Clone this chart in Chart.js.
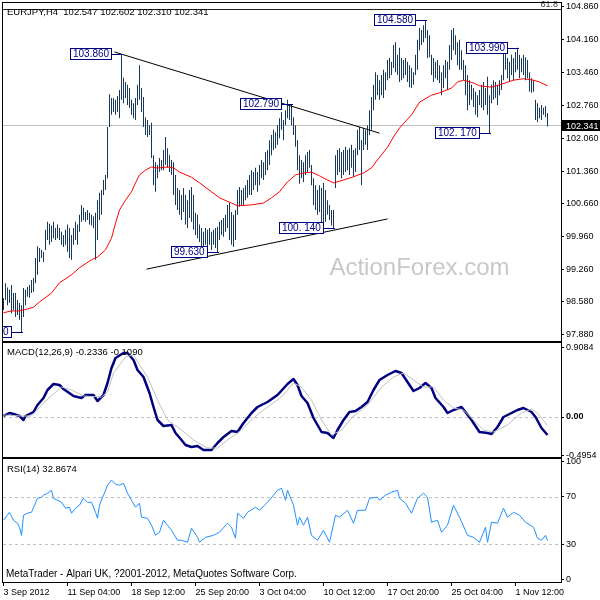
<!DOCTYPE html>
<html>
<head>
<meta charset="utf-8">
<script src="https://cdn.jsdelivr.net/npm/chart.js@4.4.1/dist/chart.umd.min.js"></script>
<style>
    html, body { margin: 0; padding: 0; background: #fff; }
    #wrap { position: relative; width: 600px; height: 600px; }
    #wrap canvas { position: absolute; left: 0; top: 0; }
</style>
</head>
<body>
<div id="wrap">
    <canvas id="mainChart" width="600" height="600"></canvas>
    <canvas id="macdChart" width="600" height="600"></canvas>
    <canvas id="rsiChart" width="600" height="600"></canvas>
</div>
<script>
/* ============================================================
   EURJPY H4 – bars + MA, MACD, RSI (MetaTrader look)
   ============================================================ */

// ── Price bars (one per H4 bar, index 0 = 3 Sep 2012) ──
var highs = [
    98.65, 98.97, 98.88, 98.83, 98.93, 98.76, 98.76, 98.61, 98.55, 98.50,
    98.87, 98.83, 98.89, 98.93, 99.04, 99.08, 99.51, 99.76, 99.72, 99.68,
    99.64, 100.11, 100.28, 100.24, 100.20, 100.28, 100.15, 100.22, 100.15, 100.07,
    100.00, 100.11, 100.22, 100.15, 100.00, 100.15, 100.28, 100.22, 100.43, 100.64,
    100.58, 100.49, 100.53, 100.47, 100.43, 100.39, 100.47, 100.74, 100.90, 100.96,
    101.17, 101.28, 102.30, 103.00, 102.92, 102.92, 102.88, 102.96, 103.09, 103.86,
    103.35, 103.26, 103.20, 103.13, 102.88, 102.81, 102.92, 103.20, 103.62, 103.13,
    102.94, 102.51, 102.45, 102.34, 102.39, 101.70, 101.55, 101.49, 101.64, 101.60,
    101.81, 102.09, 101.85, 101.70, 101.60, 101.55, 101.28, 101.00, 100.96, 100.85,
    101.00, 100.85, 100.74, 100.96, 101.02, 100.85, 100.47, 100.43, 100.22, 100.15,
    100.07, 100.15, 100.11, 100.15, 100.07, 100.11, 100.15, 100.17, 100.28, 100.32,
    100.36, 100.43, 100.64, 100.68, 100.49, 100.43, 100.53, 100.96, 101.02, 100.96,
    101.00, 101.06, 101.17, 101.28, 101.38, 101.34, 101.43, 101.34, 101.49, 101.60,
    101.55, 101.77, 101.81, 102.02, 102.13, 102.24, 102.19, 102.34, 102.49, 102.62,
    102.45, 102.66, 102.88, 102.75, 102.79, 102.51, 102.34, 102.02, 101.70, 101.60,
    101.55, 101.70, 101.77, 101.81, 101.49, 101.21, 101.06, 100.96, 101.06, 101.00,
    101.11, 100.96, 100.74, 100.64, 100.53, 100.53, 101.70, 101.81, 101.85, 101.77,
    101.81, 101.88, 101.81, 101.85, 101.92, 101.81, 101.85, 102.24, 102.30, 102.02,
    102.28, 102.24, 102.34, 102.66, 102.94, 103.20, 103.47, 103.41, 103.30, 103.41,
    103.52, 103.47, 103.73, 103.77, 103.69, 104.05, 104.11, 103.84, 103.99, 103.77,
    103.73, 103.77, 103.69, 103.62, 103.56, 103.47, 103.84, 104.16, 104.41, 104.37,
    104.47, 104.58, 104.37, 104.26, 103.84, 103.77, 103.69, 103.73, 103.62, 103.47,
    103.62, 103.73, 103.69, 104.05, 104.37, 104.41, 104.26, 104.11, 104.16, 103.94,
    103.73, 103.62, 103.41, 103.30, 103.20, 103.13, 103.05, 102.98, 103.09, 103.20,
    103.26, 103.13, 103.37, 102.98, 103.20, 103.30, 103.26, 103.20, 103.30, 103.41,
    103.94, 103.90, 103.77, 103.69, 103.84, 103.77, 103.90, 103.99, 103.84, 103.77,
    103.84, 103.79, 103.73, 103.47, 103.34, 103.30, 102.88, 102.81, 102.71, 102.77,
    102.71, 102.75, 102.602
];
var lows = [
    98.40, 98.61, 98.50, 98.55, 98.33, 98.40, 98.25, 98.29, 98.19, 97.93,
    98.25, 98.50, 98.68, 98.66, 98.76, 98.79, 98.97, 99.15, 99.42, 99.51,
    99.42, 99.68, 99.89, 99.79, 99.85, 99.93, 99.89, 99.93, 99.89, 99.79,
    99.74, 99.79, 99.64, 99.51, 99.47, 99.79, 99.89, 99.79, 100.07, 100.28,
    100.32, 100.28, 100.32, 100.22, 100.20, 100.15, 99.47, 99.89, 100.32, 100.43,
    100.85, 100.96, 101.21, 102.30, 102.56, 102.62, 102.56, 102.62, 102.49, 102.88,
    102.81, 102.92, 102.77, 102.71, 102.56, 102.49, 102.45, 102.77, 102.88, 102.62,
    102.30, 102.13, 102.09, 102.13, 101.64, 101.06, 100.92, 101.21, 101.34, 101.38,
    101.38, 101.49, 101.43, 101.34, 101.28, 100.85, 100.64, 100.53, 100.43, 100.32,
    100.49, 100.22, 100.15, 100.36, 100.28, 100.11, 100.00, 99.93, 99.85, 99.68,
    99.72, 99.79, 99.72, 99.79, 99.68, 99.79, 99.72, 99.63, 99.89, 100.00,
    99.96, 100.07, 100.15, 99.89, 99.79, 99.74, 99.89, 100.43, 100.60, 100.64,
    100.64, 100.74, 100.79, 100.85, 100.85, 100.96, 101.06, 100.92, 101.06, 101.21,
    101.17, 101.28, 101.38, 101.49, 101.70, 101.81, 101.85, 101.92, 102.06, 102.24,
    102.02, 102.34, 102.49, 102.45, 102.34, 102.13, 101.88, 101.38, 101.09, 101.21,
    101.13, 101.28, 101.34, 101.43, 101.06, 100.64, 100.53, 100.43, 100.49, 100.22,
    100.18, 100.28, 100.43, 100.32, 100.20, 100.14, 101.00, 101.28, 101.34, 101.21,
    101.28, 101.34, 101.38, 101.28, 101.43, 101.24, 101.34, 101.70, 101.81, 101.06,
    101.81, 101.92, 101.81, 102.13, 102.24, 102.66, 102.88, 102.98, 102.88, 102.98,
    102.92, 103.09, 103.30, 103.34, 103.41, 103.56, 103.47, 103.41, 103.26, 103.30,
    103.34, 103.41, 103.26, 103.15, 103.13, 103.20, 103.41, 103.52, 103.94, 104.05,
    104.11, 104.20, 103.77, 103.79, 103.41, 103.26, 103.34, 103.30, 103.24, 102.98,
    103.13, 103.34, 103.09, 103.52, 103.73, 103.94, 103.84, 103.62, 103.52, 103.52,
    103.30, 102.98, 102.66, 102.77, 102.88, 102.73, 102.56, 102.51, 102.77, 102.71,
    102.66, 102.77, 102.56, 102.17, 102.81, 102.88, 102.92, 102.77, 102.98, 103.09,
    103.30, 103.52, 103.34, 103.26, 103.41, 103.30, 103.47, 103.52, 103.34, 103.47,
    103.41, 103.30, 103.34, 103.05, 103.03, 103.05, 102.45, 102.41, 102.49, 102.45,
    102.56, 102.51, 102.310
];

// ── Moving average (red), read at these bars ──
var maIdx = [0, 4, 8, 12, 15, 18, 24, 28, 34, 38, 44, 47, 51, 54, 56, 58, 61, 64, 66, 68,
    71, 74, 76, 78, 82, 85, 88, 94, 98, 104, 108, 114, 117, 124, 130, 134, 138, 142, 146, 150,
    154, 158, 162, 165, 170, 175, 180, 184, 187, 192, 195, 198, 204, 208, 214, 218, 224, 227, 230, 235,
    238, 244, 248, 255, 260, 265, 268, 272];
var maVal = [98.34, 98.38, 98.38, 98.42, 98.46, 98.57, 98.76, 98.98, 99.15, 99.30,
    99.47, 99.53, 99.68, 99.93, 100.25, 100.53, 100.74, 100.92, 101.11, 101.28,
    101.38, 101.45, 101.43, 101.43, 101.45, 101.43, 101.34, 101.23, 101.11, 100.92,
    100.79, 100.68, 100.62, 100.64, 100.68, 100.79, 100.92, 101.13, 101.28, 101.32,
    101.34, 101.26, 101.17, 101.11, 101.17, 101.24, 101.32, 101.43, 101.60, 101.87,
    102.09, 102.28, 102.56, 102.83, 102.98, 103.03, 103.13, 103.26, 103.30, 103.24,
    103.18, 103.15, 103.20, 103.30, 103.33, 103.30, 103.26, 103.18];

// ── Trend lines ──
var trend1Bars = [55.5, 188];
var trend1Prices = [103.90, 102.17];
var trend2Bars = [71.5, 192];
var trend2Prices = [99.27, 100.34];

// ── Price marks (high / low labels) ──
var markText = ['103.860', '102.790', '104.580', '103.990', '102. 170', '100. 140', '99.630', '97.930'];
var markBar = [59, 144, 211, 257, 243, 165, 107, 9];
var markPrice = [103.86, 102.79, 104.58, 103.99, 102.17, 100.14, 99.63, 97.93];

var fibLevel = 104.81;
var fibText = '61.8';
var lastPrice = 102.341;
var titleText = 'EURJPY,H4  102.547 102.602 102.310 102.341';

var priceTicks = [104.86, 104.16, 103.46, 102.76, 102.06, 101.36, 100.66, 99.96, 99.26, 98.58, 97.88];
var xTickBars = [0, 32, 64, 96, 128, 160, 192, 224, 256];
var xTickLabels = ['3 Sep 2012', '11 Sep 04:00', '18 Sep 12:00', '25 Sep 20:00', '3 Oct 04:00',
    '10 Oct 12:00', '17 Oct 20:00', '25 Oct 04:00', '1 Nov 12:00'];

// ── MACD(12,26,9) ──
var macdIdx = [0, 3, 5, 8, 10, 11, 15, 17, 20, 22, 25, 28, 30, 35, 39, 41, 45, 47, 50, 52,
    54, 56, 60, 62, 65, 67, 70, 73, 75, 77, 80, 84, 86, 89, 91, 94, 97, 100, 104, 107,
    110, 114, 117, 120, 124, 127, 132, 137, 142, 145, 147, 149, 152, 155, 159, 162, 165, 167, 170, 173,
    176, 179, 182, 185, 188, 192, 196, 199, 202, 205, 208, 211, 214, 216, 220, 222, 225, 229, 231, 234,
    238, 242, 244, 247, 250, 254, 257, 260, 264, 266, 269, 272];
var macdVal = [0.013, 0.052, 0.039, 0.013, -0.039, 0.013, 0.065, 0.156, 0.247, 0.351,
    0.429, 0.416, 0.364, 0.273, 0.247, 0.286, 0.286, 0.208, 0.286, 0.442,
    0.637, 0.767, 0.832, 0.832, 0.741, 0.611, 0.520, 0.312, 0.130, -0.039,
    -0.117, -0.104, -0.208, -0.299, -0.364, -0.390, -0.377, -0.429, -0.429, -0.338,
    -0.260, -0.182, -0.195, -0.078, 0.052, 0.130, 0.195, 0.286, 0.429, 0.494,
    0.416, 0.273, 0.182, -0.013, -0.195, -0.208, -0.273, -0.169, -0.039, 0.065,
    0.078, 0.130, 0.195, 0.351, 0.481, 0.546, 0.598, 0.572, 0.455, 0.338,
    0.377, 0.442, 0.377, 0.247, 0.130, 0.052, 0.091, 0.130, 0.065, -0.039,
    -0.195, -0.208, -0.221, -0.130, 0.000, 0.052, 0.091, 0.117, 0.065, 0.000,
    -0.143, -0.2336];
var sigIdx = [0, 9, 14, 20, 29, 34, 40, 49, 52, 55, 61, 65, 68, 72, 77, 82, 89, 95, 102, 107,
    112, 119, 125, 132, 139, 145, 149, 154, 159, 164, 169, 174, 182, 189, 195, 200, 205, 210, 215, 220,
    225, 230, 235, 240, 245, 252, 259, 264, 267, 272];
var sigVal = [0.026, 0.013, 0.013, 0.182, 0.390, 0.351, 0.273, 0.260, 0.325, 0.572,
    0.780, 0.806, 0.676, 0.520, 0.221, -0.039, -0.169, -0.299, -0.403, -0.403,
    -0.299, -0.169, -0.013, 0.130, 0.260, 0.442, 0.390, 0.221, -0.039, -0.234,
    -0.169, -0.013, 0.156, 0.390, 0.520, 0.572, 0.481, 0.390, 0.390, 0.221,
    0.117, 0.091, -0.039, -0.169, -0.195, -0.104, 0.052, 0.104, 0.052, -0.109];
var macdTicks = [0.9084, 0, -0.4954];
var macdTickText = ['0.9084', '0.00', '-0.4954'];
var macdTitle = 'MACD(12,26,9) -0.2336 -0.1090';

// ── RSI(14) ──
var rsiIdx = [0, 3, 5, 7, 8, 9, 10, 12, 14, 17, 19, 20, 22, 24, 25, 27, 29, 31, 33, 34,
    36, 38, 40, 42, 44, 46, 47, 48, 50, 52, 54, 56, 58, 60, 62, 64, 66, 68, 69, 72,
    74, 76, 78, 80, 82, 84, 87, 89, 92, 94, 97, 98, 101, 105, 108, 112, 114, 116, 117, 120,
    122, 126, 128, 132, 135, 137, 139, 141, 142, 145, 147, 148, 150, 152, 154, 157, 160, 163, 166, 168,
    172, 175, 177, 181, 183, 187, 188, 191, 194, 197, 198, 201, 204, 207, 210, 212, 214, 217, 219, 222,
    225, 228, 232, 235, 238, 241, 242, 244, 247, 250, 252, 255, 258, 261, 265, 267, 269, 271, 272];
var rsiVal = [50.2, 57.0, 50.2, 47.7, 44.3, 37.4, 54.5, 56.2, 57.0, 68.9,
    69.8, 71.5, 73.2, 75.7, 68.9, 67.2, 65.5, 60.4, 61.3, 56.2,
    60.4, 63.0, 68.9, 65.5, 65.5, 57.0, 51.9, 63.0, 71.5, 80.0,
    84.3, 80.9, 80.0, 81.7, 73.2, 67.2, 61.3, 64.7, 52.8, 51.9,
    46.0, 37.4, 40.0, 50.2, 46.0, 41.7, 33.2, 33.2, 31.5, 43.4,
    35.7, 31.5, 35.7, 37.4, 40.0, 47.7, 44.3, 34.9, 56.2, 51.9,
    57.0, 61.3, 58.7, 65.5, 71.5, 75.7, 77.4, 67.2, 75.7, 63.0,
    46.0, 52.8, 46.0, 52.8, 37.4, 33.2, 41.7, 31.5, 54.5, 52.8,
    58.7, 47.7, 58.7, 58.7, 68.9, 69.8, 67.2, 71.5, 74.0, 75.7,
    68.9, 64.7, 56.2, 68.9, 73.2, 69.8, 48.5, 50.2, 40.0, 46.0,
    63.0, 52.8, 37.4, 35.7, 31.5, 44.3, 31.5, 48.5, 47.7, 60.4,
    52.8, 57.0, 54.5, 48.5, 44.3, 34.9, 33.2, 37.4, 32.87];
var rsiTicks = [100, 70, 30, 0];
var rsiLevels = [70, 30];
var rsiTitle = 'RSI(14) 32.8674';
var footerText = 'MetaTrader - Alpari UK, ?2001-2012, MetaQuotes Software Corp.';
var watermark = 'ActionForex.com';

(function () {
    var FONT = "'Liberation Sans', Arial, sans-serif";
    var AXIS_W = 39;
    var X_MIN = -0.25, X_MAX = 278.75;

    function pts(xs, ys) {
        return xs.map(function (x, k) { return { x: x, y: ys[k] }; });
    }

    function setTicks(vals) {
        return function (s) { s.ticks = vals.map(function (v) { return { value: v }; }); };
    }

    function fitRightAxis(s) {
        s.width = AXIS_W;
        s.paddingTop = 0;
        s.paddingBottom = 0;
    }

    function yAxis(min, max, tickVals, labelFn, fontFn) {
        return {
            position: 'right', min: min, max: max,
            afterFit: fitRightAxis,
            afterBuildTicks: setTicks(tickVals),
            ticks: { callback: labelFn, color: '#000', padding: 2, autoSkip: false,
                     font: fontFn || { family: FONT, size: 9 } },
            grid: { drawOnChartArea: false, drawTicks: true, tickLength: 3, color: '#000' },
            border: { display: true, color: '#000' }
        };
    }

    function hiddenX() {
        return { type: 'linear', min: X_MIN, max: X_MAX, display: false, offset: false,
                 grid: { offset: false } };
    }

    function text(ctx, s, x, y, font, color, align) {
        ctx.save();
        ctx.font = font;
        ctx.fillStyle = color;
        ctx.textAlign = align || 'left';
        ctx.textBaseline = 'alphabetic';
        ctx.fillText(s, x, y);
        ctx.restore();
    }

    /* ── Shared plugins ───────────────────────────────── */
    var framePlugin = {
        id: 'frame',
        afterDraw: function (chart) {
            var a = chart.chartArea, ctx = chart.ctx;
            ctx.save();
            ctx.strokeStyle = '#000';
            ctx.lineWidth = 1;
            ctx.strokeRect(a.left - 0.5, a.top - 0.5, a.right - a.left + 1, a.bottom - a.top + 1);
            ctx.restore();
        }
    };

    function dashedLevels(levels) {
        return {
            id: 'levels',
            beforeDatasetsDraw: function (chart) {
                var a = chart.chartArea, ctx = chart.ctx, y = chart.scales.y;
                ctx.save();
                ctx.strokeStyle = '#c0c0c0';
                ctx.lineWidth = 1;
                ctx.setLineDash([3, 3]);
                levels.forEach(function (v) {
                    var py = Math.round(y.getPixelForValue(v)) + 0.5;
                    ctx.beginPath();
                    ctx.moveTo(a.left, py);
                    ctx.lineTo(a.right, py);
                    ctx.stroke();
                });
                ctx.restore();
            }
        };
    }

    function panelLabel(str, dy) {
        return {
            id: 'panelLabel',
            afterDraw: function (chart) {
                var a = chart.chartArea;
                text(chart.ctx, str, a.left + 4, a.top + dy, '9.5px ' + FONT, '#000');
            }
        };
    }

    /* ── Main price panel ─────────────────────────────── */
    var mainDecor = {
        id: 'mainDecor',
        beforeDatasetsDraw: function (chart) {
            var a = chart.chartArea, ctx = chart.ctx, y = chart.scales.y;
            text(ctx, watermark, a.left + (a.right - a.left) * 0.585, a.top + (a.bottom - a.top) * 0.806,
                '24px ' + FONT, '#c8c8c8');
            ctx.save();
            ctx.lineWidth = 1;
            var py = Math.round(y.getPixelForValue(lastPrice)) + 0.5;
            ctx.strokeStyle = '#c0c0c0';
            ctx.beginPath(); ctx.moveTo(a.left, py); ctx.lineTo(a.right, py); ctx.stroke();
            var fy = Math.round(y.getPixelForValue(fibLevel)) + 0.5;
            ctx.strokeStyle = '#202020';
            ctx.beginPath(); ctx.moveTo(a.left, fy); ctx.lineTo(a.right, fy); ctx.stroke();
            ctx.restore();
        },
        afterDatasetsDraw: function (chart) {
            var a = chart.chartArea, ctx = chart.ctx, x = chart.scales.x, y = chart.scales.y;
            ctx.save();
            ctx.beginPath();
            ctx.rect(a.left, a.top, a.right - a.left, a.bottom - a.top);
            ctx.clip();
            ctx.font = '10px ' + FONT;
            ctx.textBaseline = 'middle';
            ctx.lineWidth = 1;
            markText.forEach(function (s, k) {
                var px = Math.round(x.getPixelForValue(markBar[k]));
                var py = Math.round(y.getPixelForValue(markPrice[k]));
                var w = Math.round(ctx.measureText(s).width) + 6;
                var right = px - 10;
                ctx.strokeStyle = '#000080';
                ctx.beginPath();
                ctx.moveTo(right, py + 0.5);
                ctx.lineTo(px + 1, py + 0.5);
                ctx.stroke();
                ctx.fillStyle = '#fff';
                ctx.fillRect(right - w, py - 6, w, 12);
                ctx.strokeRect(right - w + 0.5, py - 5.5, w - 1, 11);
                ctx.fillStyle = '#000080';
                ctx.textAlign = 'left';
                ctx.fillText(s, right - w + 3, py + 0.5);
            });
            ctx.restore();
        },
        afterDraw: function (chart) {
            var a = chart.chartArea, ctx = chart.ctx, y = chart.scales.y;
            text(ctx, titleText, a.left + 4, a.top + 12, '9.5px ' + FONT, '#000');
            var fy = y.getPixelForValue(fibLevel);
            text(ctx, fibText, a.right - 3, fy - 2, '9px ' + FONT, '#404040', 'right');
            // current price tag on the axis
            var py = Math.round(y.getPixelForValue(lastPrice));
            ctx.save();
            ctx.fillStyle = '#000';
            ctx.fillRect(a.right, py - 5, chart.width - a.right, 11);
            ctx.restore();
            text(ctx, lastPrice.toFixed(3), a.right + 5, py + 4, '9px ' + FONT, '#fff');
        }
    };

    var barData = highs.map(function (h, i) { return { x: i, y: [lows[i], h] }; });

    new Chart(document.getElementById('mainChart'), {
        type: 'bar',
        data: {
            datasets: [
                { type: 'bar', data: barData, backgroundColor: '#17395a', barThickness: 1,
                  inflateAmount: 0, grouped: false, order: 3 },
                { type: 'line', data: pts(maIdx, maVal), borderColor: '#ff0000', borderWidth: 1,
                  pointRadius: 0, tension: 0, order: 2 },
                { type: 'line', data: pts(trend1Bars, trend1Prices), borderColor: '#000', borderWidth: 1,
                  pointRadius: 0, order: 1 },
                { type: 'line', data: pts(trend2Bars, trend2Prices), borderColor: '#000', borderWidth: 1,
                  pointRadius: 0, order: 1 }
            ]
        },
        options: {
            responsive: false, animation: false,
            layout: { padding: { left: 3, top: 3, right: 0, bottom: 259 } },
            plugins: { legend: { display: false }, tooltip: { enabled: false } },
            scales: {
                x: hiddenX(),
                y: yAxis(97.738, 104.945, priceTicks, function (v) { return v.toFixed(3); })
            }
        },
        plugins: [mainDecor, framePlugin]
    });

    /* ── MACD panel ───────────────────────────────────── */
    new Chart(document.getElementById('macdChart'), {
        type: 'line',
        data: {
            datasets: [
                { data: pts(sigIdx, sigVal), borderColor: '#c0c0c0', borderWidth: 1, pointRadius: 0, tension: 0 },
                { data: pts(macdIdx, macdVal), borderColor: '#000080', borderWidth: 2.5, pointRadius: 0,
                  tension: 0, borderJoinStyle: 'round' }
            ]
        },
        options: {
            responsive: false, animation: false,
            layout: { padding: { left: 3, top: 343, right: 0, bottom: 143 } },
            plugins: { legend: { display: false }, tooltip: { enabled: false } },
            scales: {
                x: hiddenX(),
                y: yAxis(-0.520, 0.962, macdTicks, function (v, i) { return macdTickText[i]; },
                    function (c) { return { family: FONT, size: 9, weight: c.tick && c.tick.value === 0 ? 'bold' : 'normal' }; })
            }
        },
        plugins: [dashedLevels([0]), panelLabel(macdTitle, 12), framePlugin]
    });

    /* ── RSI panel + time axis ────────────────────────── */
    var footer = {
        id: 'footer',
        afterDraw: function (chart) {
            var a = chart.chartArea;
            text(chart.ctx, footerText, a.left + 3, a.bottom - 5, '10px ' + FONT, '#000');
        }
    };

    new Chart(document.getElementById('rsiChart'), {
        type: 'line',
        data: {
            datasets: [
                { data: pts(rsiIdx, rsiVal), borderColor: '#1e90ff', borderWidth: 1, pointRadius: 0, tension: 0 }
            ]
        },
        options: {
            responsive: false, animation: false,
            layout: { padding: { left: 3, top: 459, right: 0, bottom: 0 } },
            plugins: { legend: { display: false }, tooltip: { enabled: false } },
            scales: {
                x: {
                    type: 'linear', min: X_MIN, max: X_MAX, position: 'bottom', offset: false,
                    afterBuildTicks: setTicks(xTickBars),
                    afterFit: function (s) { s.height = 18; s.paddingLeft = 0; s.paddingRight = 0; },
                    ticks: { callback: function (v, i) { return xTickLabels[i]; }, align: 'start',
                             maxRotation: 0, autoSkip: false, color: '#000', padding: 1,
                             font: { family: FONT, size: 9 } },
                    grid: { drawOnChartArea: false, drawTicks: true, tickLength: 4, color: '#000' },
                    border: { display: false }
                },
                y: yAxis(-2.3, 102.3, rsiTicks, function (v) { return String(v); })
            }
        },
        plugins: [dashedLevels(rsiLevels), panelLabel(rsiTitle, 13), footer, framePlugin]
    });
})();
</script>
</body>
</html>
